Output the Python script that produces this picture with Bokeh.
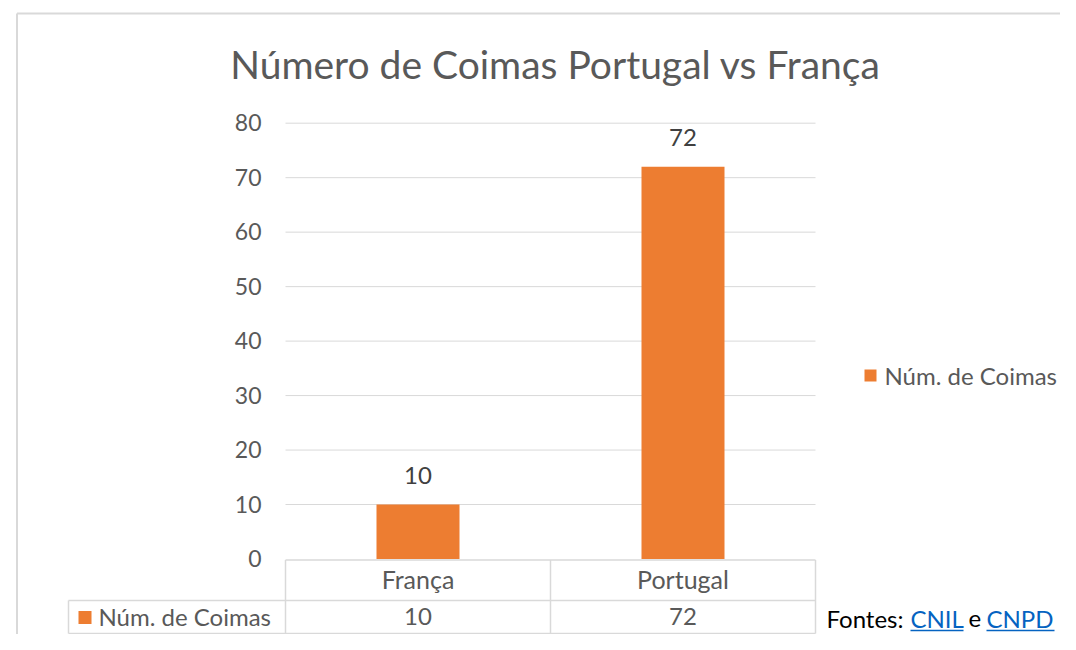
from bokeh.plotting import figure
from bokeh.models import Range1d
from bokeh.core.properties import value
from bokeh.embed import file_html
from bokeh.resources import INLINE

# ---------------- data ----------------
title_text = "Número de Coimas Portugal vs França"
categories = ["França", "Portugal"]
coimas = [10, 72]
series_name = "Núm. de Coimas"
y_ticks = [0, 10, 20, 30, 40, 50, 60, 70, 80]
y_tick_labels = ["0", "10", "20", "30", "40", "50", "60", "70", "80"]
source_prefix = "Fontes:"
source_links = ["CNIL", "CNPD"]
source_joiner = "e"

# ---------------- layout helpers ----------------
W, H = 1060, 634
PX_PER_X = 265.0      # pixels per category
X0_PX = 285.0         # pixel x of category axis start
PX_PER_Y = 5.4475     # pixels per unit of value
Y0_PX = 558.5         # pixel y of value 0
BL = 0.37             # baseline compensation (fraction of font size)

def X(px):
    return (px - X0_PX) / PX_PER_X

def Y(py):
    return (Y0_PX - py) / PX_PER_Y

def YB(py, size):
    """data y for a text whose visual baseline should sit at pixel py"""
    return Y(py - BL * size)

ORANGE = "#ED7D31"
GRID = "#D9D9D9"
TXT = "#595959"
FONT = value("Lato")

p = figure(width=W, height=H,
           x_range=Range1d(X(0), X(W)),
           y_range=Range1d(Y(H), Y(0)),
           output_backend="svg", toolbar_location=None,
           x_axis_location=None, y_axis_location=None,
           min_border=0, outline_line_color=None,
           background_fill_color="white", border_fill_color="white")
p.grid.visible = False

n = len(categories)
xs = [i + 0.5 for i in range(n)]

# outer chart border
p.segment(x0=[X(16.5), X(16.5)], y0=[Y(13), Y(13)],
          x1=[X(16.5), X(1100)], y1=[Y(700), Y(13)],
          line_color="#D9D9D9", line_width=2)

# gridlines
p.segment(x0=0, x1=n, y0=y_ticks[1:], y1=y_ticks[1:], line_color=GRID, line_width=1)

# bars
p.vbar(x=xs, top=coimas, bottom=0, width=83 / PX_PER_X, fill_color=ORANGE, line_color=None)

# y tick labels
TS = 23
p.text(x=[X(261)] * len(y_ticks),
       y=[t - (8 - BL * TS) / PX_PER_Y for t in y_ticks], text=y_tick_labels,
       text_align="right", text_baseline="alphabetic", text_font=FONT,
       text_font_size=f"{TS}px", text_color=TXT)

# data labels
DS = 24
p.text(x=xs, y=[v + (20.5 + BL * DS) / PX_PER_Y for v in coimas], text=[str(v) for v in coimas],
       text_align="center", text_baseline="alphabetic", text_font=FONT,
       text_font_size=f"{DS}px", text_color="#404040")

# title
p.text(x=[X(555)], y=[YB(78, 39)], text=[title_text], text_align="center",
       text_baseline="alphabetic", text_font=FONT, text_font_size="39px", text_color=TXT)

# data table lines
top_t, mid_t, bot_t = Y(559.5), Y(600), Y(633)
left_t = X(68)
p.segment(x0=[0, left_t, left_t], x1=[n, n, n], y0=[top_t, mid_t, bot_t], y1=[top_t, mid_t, bot_t],
          line_color=GRID, line_width=1.5)
vx = list(range(n + 1))
p.segment(x0=vx, x1=vx, y0=[top_t] * len(vx), y1=[bot_t] * len(vx), line_color=GRID, line_width=1.5)
p.segment(x0=[left_t], x1=[left_t], y0=[mid_t], y1=[bot_t], line_color=GRID, line_width=1.5)

# table: category row
p.text(x=xs, y=[YB(588, 25)] * n, text=categories, text_align="center", text_baseline="alphabetic",
       text_font=FONT, text_font_size="25px", text_color=TXT)
# table: value row
p.text(x=xs, y=[YB(625, 24)] * n, text=[str(v) for v in coimas], text_align="center",
       text_baseline="alphabetic", text_font=FONT, text_font_size="24px", text_color=TXT)
p.scatter(x=[X(84.5)], y=[Y(617)], marker="square", size=13, fill_color=ORANGE, line_color=None)
p.text(x=[X(98)], y=[YB(625, 24)], text=[series_name], text_align="left", text_baseline="alphabetic",
       text_font=FONT, text_font_size="24px", text_color=TXT)

# legend
p.scatter(x=[X(870)], y=[Y(375)], marker="square", size=12, fill_color=ORANGE, line_color=None)
p.text(x=[X(884)], y=[YB(383.5, 24)], text=[series_name], text_align="left", text_baseline="alphabetic",
       text_font=FONT, text_font_size="24px", text_color=TXT)

# source note
SS = 24
base = YB(627, SS)
p.text(x=[X(826)], y=[base], text=[source_prefix], text_align="left", text_baseline="alphabetic",
       text_font=FONT, text_font_size=f"{SS}px", text_color="#000000")
p.text(x=[X(910), X(986)], y=[base, base], text=source_links, text_align="left",
       text_baseline="alphabetic", text_font=FONT, text_font_size=f"{SS}px", text_color="#0563C1")
p.text(x=[X(968)], y=[base], text=[source_joiner], text_align="left", text_baseline="alphabetic",
       text_font=FONT, text_font_size=f"{SS}px", text_color="#000000")
p.segment(x0=[X(910), X(986)], x1=[X(963), X(1054)], y0=[Y(630)] * 2, y1=[Y(630)] * 2,
          line_color="#0563C1", line_width=1.5)

open("out.html", "w").write(file_html(p, INLINE))
